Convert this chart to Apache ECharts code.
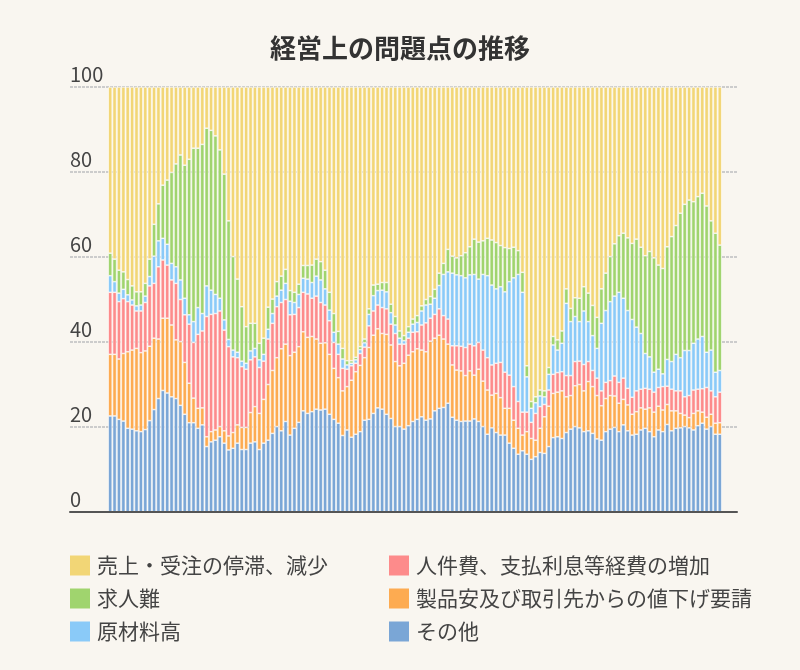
<!DOCTYPE html>
<html>
<head>
<meta charset="utf-8">
<script src="https://cdn.jsdelivr.net/npm/echarts@6/dist/echarts.min.js"></script>
<style>
html,body{margin:0;padding:0;background:#f9f6f0;}
#chart{width:800px;height:670px;}
</style>
</head>
<body>
<div id="chart"></div>
<script>
// 売上・受注の停滞、減少
const sales = [
39.1,40.5,43.1,43.5,45.3,46.8,48.2,48.2,46.2,40.5,32.3,27.5,23.1,21.9,20.1,18.1,16.0,18.4,17.0,14.4,
14.4,13.5,9.7,10.2,11.5,14.8,20.5,31.5,39.9,45.2,51.7,56.4,55.6,55.6,60.3,59.1,51.8,49.9,45.8,44.5,
42.9,47.9,48.3,46.4,42.0,42.0,41.9,40.5,41.1,43.1,48.3,53.3,57.5,61.5,64.4,64.4,63.6,61.1,59.3,52.2,
46.6,46.4,46.0,46.0,51.1,54.0,57.4,58.5,56.4,54.6,53.8,51.5,50.0,49.3,47.6,43.8,41.5,38.2,39.8,40.2,
39.7,39.0,37.6,35.8,36.5,36.2,35.6,36.0,36.6,37.3,37.8,38.0,37.7,38.5,43.6,65.6,74.0,72.9,71.3,71.5,
66.0,58.7,59.5,57.4,47.5,52.1,49.6,49.7,47.0,48.5,51.4,54.2,47.5,43.8,39.9,36.9,35.0,34.4,35.5,36.8,
35.8,37.7,39.7,38.7,40.2,41.9,42.7,37.6,35.2,32.6,29.7,27.6,26.6,27.0,25.8,25.0,28.0,31.5,34.4,37.2
];
// 求人難
const labor = [
5.3,5.3,5.4,4.1,3.6,3.3,3.3,3.1,3.0,4.1,7.5,8.7,12.5,15.1,21.4,24.2,29.4,31.3,36.6,40.8,
37.5,39.8,37.1,37.6,37.3,34.9,34.3,27.9,22.0,17.2,12.8,8.6,6.5,5.9,3.9,3.8,5.2,3.4,3.4,3.3,
3.3,2.5,2.4,2.4,3.0,3.2,4.1,4.0,4.3,4.4,4.2,4.4,3.0,2.5,1.0,0.6,0.6,0.7,0.9,1.3,
2.5,1.5,1.8,2.2,2.0,2.0,1.7,1.2,1.3,1.2,1.6,1.2,1.3,1.8,2.1,2.9,2.6,5.3,4.0,4.0,
4.7,5.9,6.6,8.3,8.7,7.9,8.8,10.6,10.9,9.7,10.4,7.8,7.2,5.6,4.7,2.6,1.6,1.4,1.4,1.4,
1.6,2.0,2.4,2.9,3.4,3.1,4.4,5.5,5.7,6.7,7.1,7.3,8.1,8.8,10.6,12.3,13.3,15.3,17.1,17.9,
20.7,20.3,23.0,24.8,26.9,24.5,24.8,26.5,29.4,30.3,34.0,34.4,35.4,33.3,33.5,33.7,34.4,30.4,32.7,29.5
];
// 原材料高
const material = [
3.9,2.5,2.0,2.2,1.6,1.2,1.2,1.4,1.5,2.2,6.4,6.1,5.1,4.9,3.9,3.9,4.6,3.9,2.2,4.9,
6.3,4.1,7.2,5.7,4.5,3.0,2.4,1.7,1.6,1.3,1.3,1.4,2.1,2.0,1.8,1.6,2.3,2.3,2.5,2.9,
3.8,3.2,2.8,3.1,3.3,3.5,3.7,4.7,5.3,3.8,2.5,2.4,2.4,2.2,1.0,0.6,0.8,0.9,1.0,2.7,
3.6,3.4,4.1,4.0,2.7,2.0,1.4,0.8,1.4,1.9,2.2,3.3,4.2,3.3,3.8,5.5,9.7,11.1,17.1,16.7,
16.6,16.4,16.3,16.8,14.9,17.8,19.3,18.8,17.5,17.8,18.9,22.0,25.6,29.9,28.2,8.3,3.3,2.5,2.5,1.8,
3.7,6.9,5.3,6.7,17.0,12.7,10.6,9.3,12.6,9.4,8.2,7.0,15.9,16.9,18.6,18.8,21.2,18.8,18.3,18.3,
15.0,13.1,8.2,7.6,4.7,4.3,3.0,6.3,6.5,8.6,7.8,10.9,10.6,11.0,11.8,12.3,8.3,9.6,5.8,5.1
];
// 人件費、支払利息等経費の増加
const personnel = [
14.6,14.6,13.5,12.9,11.8,10.6,8.8,9.8,11.4,14.2,12.9,17.0,13.7,12.5,10.6,13.3,9.9,11.2,13.9,13.1,
17.4,18.1,28.3,27.6,27.4,27.2,23.7,21.0,17.8,15.8,14.3,13.7,12.4,11.7,10.8,9.0,10.7,11.1,12.0,10.9,
10.5,9.6,8.9,9.2,9.3,10.2,9.0,10.1,9.6,8.9,7.9,6.1,5.5,5.3,4.1,3.4,2.0,2.8,2.5,5.1,
5.7,5.6,6.1,6.0,4.9,6.6,5.1,4.5,4.0,4.6,4.0,5.9,6.8,5.4,5.6,6.2,5.5,5.9,4.5,5.7,
5.8,6.6,6.3,6.9,6.3,7.3,7.6,7.1,7.1,8.3,8.5,7.8,7.9,6.3,5.4,4.6,3.8,6.3,5.1,2.9,
3.8,4.5,4.6,4.5,5.0,4.7,5.7,5.5,6.2,4.7,3.8,4.1,3.5,3.8,3.5,4.7,4.9,5.0,3.9,4.0,
4.9,4.4,4.9,4.4,4.7,4.4,5.5,4.3,5.1,4.7,5.3,4.3,5.2,5.5,5.1,5.5,7.0,5.5,6.2,7.2
];
// 製品安及び取引先からの値下げ要請
const price = [
14.5,14.5,14.2,15.9,18.0,18.6,19.4,18.6,18.5,17.5,16.8,14.0,17.0,17.6,16.9,13.8,15.0,12.2,9.3,5.8,
4.7,4.0,2.3,2.4,2.4,2.4,2.9,3.3,3.7,4.3,5.2,5.2,7.2,8.3,8.5,10.3,13.1,14.8,16.2,19.3,
18.2,18.7,17.9,17.8,18.6,17.9,17.7,16.5,15.7,15.6,14.1,12.0,10.7,10.5,10.2,13.4,14.7,15.6,14.7,16.9,
18.4,18.6,17.8,18.8,17.3,15.3,14.3,15.5,16.6,16.4,16.6,15.7,16.1,18.3,17.1,17.2,16.1,13.9,12.3,11.8,
11.9,10.7,11.8,10.3,12.3,10.7,10.4,7.7,9.2,8.8,6.3,8.2,6.6,6.1,3.7,5.3,4.9,3.9,5.7,8.6,
9.5,10.4,10.5,11.2,8.4,7.9,9.6,10.2,9.6,11.6,11.0,10.2,8.1,7.8,7.9,7.4,6.7,6.0,6.1,4.9,
5.3,5.2,4.5,5.6,5.8,5.6,5.1,4.7,4.7,4.1,3.4,2.7,2.4,3.9,3.5,2.6,2.8,2.9,2.6,2.7
];
// その他
const other = [
22.6,22.6,21.8,21.4,19.7,19.5,19.1,18.9,19.4,21.5,24.1,26.7,28.6,28.0,27.1,26.7,25.1,23.0,21.0,21.0,
19.7,20.5,15.4,16.5,16.9,17.7,16.2,14.6,15.0,16.2,14.7,14.7,16.2,16.5,14.7,16.2,16.9,18.5,20.1,19.1,
21.3,18.1,19.7,21.1,23.8,23.2,23.6,24.2,24.0,24.2,23.0,21.8,20.9,18.0,19.3,17.6,18.3,18.9,21.6,21.8,
23.2,24.5,24.2,23.0,22.0,20.1,20.1,19.5,20.3,21.3,21.8,22.4,21.6,21.9,23.8,24.4,24.6,25.6,22.3,21.6,
21.3,21.4,21.4,21.9,21.3,20.1,18.3,19.8,18.7,18.1,18.1,16.2,15.0,13.6,14.4,13.6,12.4,13.0,14.0,13.8,
15.4,17.5,17.7,17.3,18.7,19.5,20.1,19.8,18.9,19.1,18.5,17.2,16.9,18.9,19.5,19.9,18.9,20.5,19.1,18.1,
18.3,19.3,19.7,18.9,17.7,19.3,18.9,20.6,19.1,19.7,19.8,20.1,19.8,19.3,20.3,20.9,19.5,20.1,18.3,18.3
];
// 調査期（ラベル非表示）
const periods = sales.map((_, i) => String(i + 1));
const yTickInterval = 20;
const yMax = 100;

const FONT = '"Noto Sans CJK JP", "Noto Sans", sans-serif';
const stackOrder = [
  { name: 'その他', data: other, color: '#7aa6d6' },
  { name: '製品安及び取引先からの値下げ要請', data: price, color: '#fdab51' },
  { name: '人件費、支払利息等経費の増加', data: personnel, color: '#fd8b8b' },
  { name: '原材料高', data: material, color: '#8acaf8' },
  { name: '求人難', data: labor, color: '#a0d46e' },
  { name: '売上・受注の停滞、減少', data: sales, color: '#f2d676' }
];

const chart = echarts.init(document.getElementById('chart'), null, { renderer: 'canvas' });
const legendBase = {
  orient: 'vertical', top: 555, padding: 0, itemWidth: 20, itemHeight: 20, itemGap: 12,
  icon: 'rect', selectedMode: false,
  itemStyle: { borderWidth: 0 },
  textStyle: { fontSize: 21, color: '#444', fontFamily: FONT, padding: [0, 0, 0, 2] }
};
chart.setOption({
  backgroundColor: '#f9f6f0',
  animation: false,
  textStyle: { fontFamily: FONT },
  title: {
    text: '経営上の問題点の推移', left: 'center', top: 30,
    textStyle: { fontSize: 26, fontWeight: 'bold', color: '#333', fontFamily: FONT }
  },
  legend: [
    Object.assign({}, legendBase, { left: 70, data: ['売上・受注の停滞、減少', '求人難', '原材料高'] }),
    Object.assign({}, legendBase, { left: 389, data: ['人件費、支払利息等経費の増加', '製品安及び取引先からの値下げ要請', 'その他'] })
  ],
  grid: [
    { left: 108, right: 78, top: 87, bottom: 158 },
    { left: 70, right: 63, top: 87, bottom: 158 }
  ],
  xAxis: [
    { gridIndex: 0, type: 'category', data: periods, show: false },
    { gridIndex: 1, type: 'value', min: 0, max: 1, z: 5,
      axisLine: { show: true, lineStyle: { color: '#555', width: 2 } },
      axisTick: { show: false }, axisLabel: { show: false }, splitLine: { show: false } }
  ],
  yAxis: [
    { gridIndex: 0, type: 'value', min: 0, max: yMax, show: false },
    { gridIndex: 1, type: 'value', min: 0, max: yMax, interval: yTickInterval, z: 0,
      axisLine: { show: false }, axisTick: { show: false },
      axisLabel: { inside: true, margin: 0, align: 'left', verticalAlign: 'bottom',
        padding: [0, 0, 3, 0], fontSize: 20, color: '#444', fontFamily: FONT },
      splitLine: { show: true, lineStyle: { color: '#cccccc', width: 2, type: [3, 1] } } }
  ],
  series: stackOrder.map(s => ({
    type: 'bar', name: s.name, data: s.data, stack: 'total',
    xAxisIndex: 0, yAxisIndex: 0, barCategoryGap: '10%',
    itemStyle: { color: s.color, borderColor: '#ffffff', borderWidth: 0.6 },
    emphasis: { disabled: true }
  }))
});
</script>
</body>
</html>
